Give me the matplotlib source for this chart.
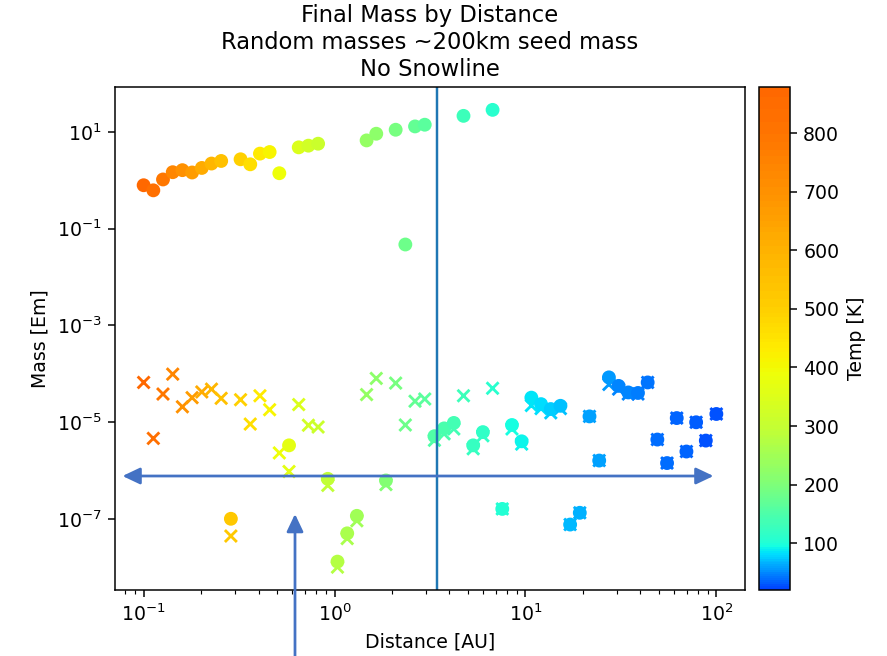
import numpy as np
import matplotlib
matplotlib.use("Agg")
import matplotlib.pyplot as plt
from matplotlib.colors import LinearSegmentedColormap, Normalize
from matplotlib.cm import ScalarMappable
from matplotlib.patches import FancyArrowPatch

# ---- data ----
distance = [0.1, 0.1124, 0.1263, 0.1420, 0.1596, 0.1794, 0.2017, 0.2267, 0.2548, 0.2864,
            0.3219, 0.3618, 0.4067, 0.4571, 0.5138, 0.5776, 0.6492, 0.7297, 0.8202, 0.9219,
            1.036, 1.165, 1.309, 1.472, 1.654, 1.859, 2.090, 2.349, 2.640, 2.968,
            3.336, 3.749, 4.214, 4.737, 5.324, 5.985, 6.727, 7.561, 8.499, 9.553,
            10.74, 12.07, 13.57, 15.25, 17.14, 19.26, 21.65, 24.34, 27.36, 30.75,
            34.56, 38.85, 43.67, 49.08, 55.17, 62.01, 69.70, 78.35, 88.06, 100.0]

final_mass = [0.79, 0.62, 1.04, 1.47, 1.62, 1.45, 1.80, 2.22, 2.51, 1.0e-7,
              2.72, 2.14, 3.56, 3.84, 1.40, 3.3e-6, 4.80, 5.20, 5.71, 6.7e-7,
              1.3e-8, 5.0e-8, 1.15e-7, 6.68, 9.18, 6.2e-7, 11.1, 0.047, 13.0, 14.1,
              5.1e-6, 7.4e-6, 9.6e-6, 21.5, 3.3e-6, 6.2e-6, 28.6, 1.6e-7, 8.7e-6, 4.0e-6,
              3.2e-5, 2.35e-5, 1.86e-5, 2.17e-5, 7.6e-8, 1.33e-7, 1.31e-5, 1.6e-6, 8.4e-5, 5.6e-5,
              4.1e-5, 4.0e-5, 6.6e-5, 4.35e-6, 1.42e-6, 1.21e-5, 2.46e-6, 9.9e-6, 4.14e-6, 1.47e-5]

initial_mass = [6.6e-5, 4.6e-6, 3.8e-5, 9.8e-5, 2.07e-5, 3.2e-5, 4.2e-5, 4.8e-5, 3.1e-5, 4.4e-8,
                2.9e-5, 9.1e-6, 3.5e-5, 1.8e-5, 2.3e-6, 9.5e-7, 2.3e-5, 8.6e-6, 7.9e-6, 4.9e-7,
                1.0e-8, 3.9e-8, 9.1e-8, 3.7e-5, 8.0e-5, 5.1e-7, 6.4e-5, 8.7e-6, 2.7e-5, 3.0e-5,
                4.2e-6, 5.7e-6, 7.2e-6, 3.5e-5, 2.8e-6, 5.2e-6, 5.0e-5, 1.6e-7, 7.2e-6, 3.5e-6,
                2.2e-5, 1.9e-5, 1.55e-5, 1.9e-5, 7.6e-8, 1.33e-7, 1.31e-5, 1.6e-6, 6.0e-5, 4.8e-5,
                3.8e-5, 3.8e-5, 6.6e-5, 4.35e-6, 1.42e-6, 1.21e-5, 2.46e-6, 9.9e-6, 4.14e-6, 1.47e-5]

temperature = [885, 835, 788, 743, 701, 661, 624, 588, 555, 523,
               494, 466, 439, 414, 391, 369, 348, 328, 309, 292,
               275, 260, 245, 231, 218, 205, 194, 183, 172, 163,
               153, 145, 136, 129, 121, 114, 108, 102, 96, 91,
               85, 81, 76, 72, 68, 64, 60, 57, 54, 50,
               48, 45, 42, 40, 38, 36, 34, 32, 30, 28]

divider_au = 3.46
title = "Final Mass by Distance\nRandom masses ~200km seed mass\nNo Snowline"

# ---- colormap: portion of jet, mapped to temperature ----
t_anchor = [20, 100, 200, 300, 400, 500, 600, 700, 800, 879]
f_anchor = [0.19, 0.39, 0.505, 0.59, 0.645, 0.69, 0.72, 0.755, 0.785, 0.80]
tgrid = np.linspace(20, 879, 256)
jet = plt.get_cmap("jet")
cmap = LinearSegmentedColormap.from_list("tempjet", jet(np.interp(tgrid, t_anchor, f_anchor)))
norm = Normalize(vmin=20, vmax=879)

W, H, DPI = 887, 656, 136
fig = plt.figure(figsize=(W / DPI, H / DPI), dpi=DPI)
ax = fig.add_axes([115 / W, 1 - 590 / H, 630 / W, 503 / H])
cax = fig.add_axes([759 / W, 1 - 590 / H, 31 / W, 503 / H])

ax.scatter(distance, initial_mass, c=temperature, cmap=cmap, norm=norm, marker="x", s=40)
ax.scatter(distance, final_mass, c=temperature, cmap=cmap, norm=norm, marker="o", s=40)
ax.set_xscale("log")
ax.set_yscale("log")
ax.axvline(divider_au, color="#1f77b4", lw=1.3)

ax.set_title(title)
ax.set_xlabel("Distance [AU]")
ax.set_ylabel("Mass [Em]")

cb = fig.colorbar(ScalarMappable(norm=norm, cmap=cmap), cax=cax)
cb.set_label("Temp [K]")

# ---- overlaid arrows (figure pixels from top-left) ----
def fp(x, y):
    return (x / W, 1 - y / H)

arr_col = "#4472C4"
a1 = FancyArrowPatch(fp(122.5, 476), fp(713.5, 476), transform=fig.transFigure,
                     arrowstyle="<|-|>,head_length=7.8,head_width=3.7",
                     color=arr_col, lw=1.45, shrinkA=0, shrinkB=0, mutation_scale=1)
a2 = FancyArrowPatch(fp(295, 660), fp(295, 514), transform=fig.transFigure,
                     arrowstyle="-|>,head_length=7.8,head_width=3.7",
                     color=arr_col, lw=1.45, shrinkA=0, shrinkB=0, mutation_scale=1)
fig.add_artist(a1)
fig.add_artist(a2)

fig.savefig("out.png", dpi=DPI)
